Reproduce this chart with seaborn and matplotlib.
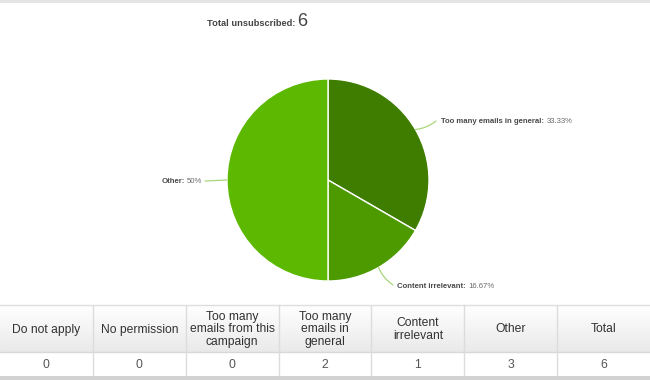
import numpy as np
import matplotlib
matplotlib.use("Agg")
import matplotlib.pyplot as plt
import seaborn as sns

# ---- data ----
categories = ["Do not apply", "No permission", "Too many\nemails from this\ncampaign",
              "Too many\nemails in\ngeneral", "Content\nirrelevant", "Other", "Total"]
counts = [0, 0, 0, 2, 1, 3, 6]
pie_labels = ["Too many emails in general", "Content irrelevant", "Other"]
pie_values = [2, 1, 3]
pie_colors = ["#3e7d00", "#4c9a00", "#5cb800"]
title_text = "Total unsubscribed:"
total_value = 6

sns.set_theme(style="white")
plt.rcParams['font.family'] = ['DejaVu Sans']

W, H = 650, 380
fig = plt.figure(figsize=(W / 100, H / 100), dpi=100)
fig.patch.set_facecolor("white")

# background axes in pixel coordinates
bg = fig.add_axes([0, 0, 1, 1], zorder=0)
bg.set_xlim(0, W)
bg.set_ylim(H, 0)
bg.axis("off")

# top border
bg.axhspan(0, 2.5, color="#e4e4e4", lw=0)

# title
t1 = bg.text(207, 26.5, title_text + " ", fontsize=6.7, fontweight="bold",
             color="#444444", va="baseline", ha="left",
             family=["Liberation Sans"])
bg.annotate(str(total_value), xy=(1, 0), xycoords=t1, va="bottom", ha="left",
            xytext=(-0.5, -1), textcoords="offset points",
            fontsize=13, color="#444444", family=["Liberation Sans"])

# table
ncol = len(categories)
cw = W / ncol
y_top, y_mid, y_bot = 305, 352, 376
grad = np.linspace(1.0, 0.915, 64).reshape(-1, 1)
bg.imshow(np.dstack([grad] * 3), extent=[0, W, y_mid, y_top], aspect="auto",
          interpolation="bilinear", zorder=1)
bg.axhline(y_top, color="#dedede", lw=1, zorder=2)
bg.axhline(y_mid, color="#d8d8d8", lw=1, zorder=2)
bg.axhspan(y_bot, H, color="#d2d2d2", lw=0, zorder=2)
for i in range(1, ncol):
    bg.plot([i * cw, i * cw], [y_top, y_bot], color="#dcdcdc", lw=1, zorder=2)
for i, (c, v) in enumerate(zip(categories, counts)):
    cx = (i + 0.5) * cw
    bg.text(cx, (y_top + y_mid) / 2 + 1, c, ha="center", va="center",
            fontsize=8.7, color="#333333", linespacing=1.02,
            family=["Liberation Sans"], zorder=3)
    bg.text(cx, (y_mid + y_bot) / 2 + 1, str(v), ha="center", va="center",
            fontsize=8.7, color="#555555", family=["Liberation Sans"], zorder=3)

# pie
cx_px, cy_px, r_px = 328, 180, 101
ax = fig.add_axes([(cx_px - r_px) / W, (H - cy_px - r_px) / H,
                   2 * r_px / W, 2 * r_px / H], zorder=2)
ax.pie(pie_values, colors=pie_colors, startangle=90, counterclock=False,
       wedgeprops=dict(edgecolor="white", linewidth=1.0))
ax.set_xlim(-1, 1)
ax.set_ylim(-1, 1)
ax.set_aspect("equal")
ax.axis("off")

total = sum(pie_values)
def fmt(p):
    s = f"{p:.2f}".rstrip("0").rstrip(".")
    return s + "%"

def px2d(x, y):
    return ((x - cx_px) / r_px, (cy_px - y) / r_px)

line_col = "#a8d67a"
lab_kw = dict(fontsize=5.6, va="center", family=["Liberation Sans", "DejaVu Sans"])
# label anchors (text start px, line end px, curvature)
anchors = [((441, 121), (436, 121), -0.15, "left"),
           ((397, 286), (393, 285), -0.15, "left"),
           ((202, 181), (205, 181), 0.0, "right")]
ang = 90.0
for lab, val, (tpos, lend, rad, side) in zip(pie_labels, pie_values, anchors):
    frac = val / total
    mid = np.deg2rad(ang - frac * 180)
    ang -= frac * 360
    ex, ey = np.cos(mid), np.sin(mid)
    ax.annotate("", xy=(ex, ey), xytext=px2d(*lend),
                arrowprops=dict(arrowstyle="-", color=line_col, lw=0.9,
                                connectionstyle=f"arc3,rad={rad}",
                                shrinkA=0, shrinkB=0), annotation_clip=False)
    pct = fmt(100 * frac)
    if side == "left":
        tn = ax.annotate(lab + ":", xy=px2d(*tpos), ha="left", fontweight="bold",
                         color="#4a4a4a", annotation_clip=False, **lab_kw)
        ax.annotate(pct, xy=(1, 0.5), xycoords=tn, ha="left",
                    xytext=(1.6, 0), textcoords="offset points",
                    color="#6a6a6a", annotation_clip=False, **lab_kw)
    else:
        tv = ax.annotate(pct, xy=px2d(*tpos), ha="right",
                         color="#6a6a6a", annotation_clip=False, **lab_kw)
        ax.annotate(lab + ":", xy=(0, 0.5), xycoords=tv, ha="right",
                    xytext=(-1.6, 0), textcoords="offset points", fontweight="bold",
                    color="#4a4a4a", annotation_clip=False, **lab_kw)

fig.savefig("out.png", dpi=100, facecolor="white")
